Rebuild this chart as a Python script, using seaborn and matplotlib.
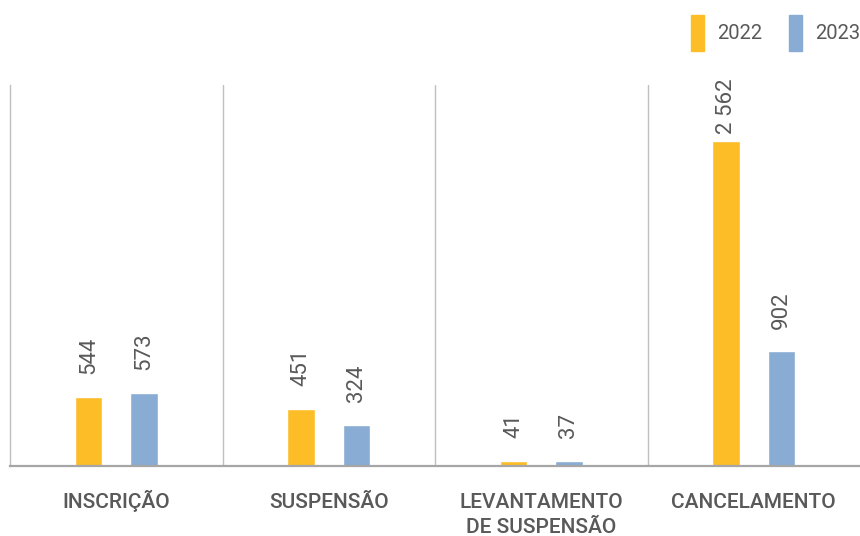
import matplotlib
matplotlib.use("Agg")
import matplotlib.pyplot as plt
import matplotlib.patches as mpatches
import matplotlib.transforms as mtransforms
import seaborn as sns
import pandas as pd

# data
categories = ["INSCRIÇÃO", "SUSPENSÃO", "LEVANTAMENTO\nDE SUSPENSÃO", "CANCELAMENTO"]
years = ["2022", "2023"]
values_2022 = [544, 451, 41, 2562]
values_2023 = [573, 324, 37, 902]

colors = {"2022": "#FDBD26", "2023": "#88ACD3"}
text_color = "#595959"
line_color = "#BFBFBF"

df = pd.DataFrame({
    "categoria": categories * 2,
    "ano": [years[0]] * 4 + [years[1]] * 4,
    "valor": values_2022 + values_2023,
})

sns.set_theme(style="white")
plt.rcParams["font.family"] = ["Roboto", "DejaVu Sans"]

fig = plt.figure(figsize=(8.6, 5.36), dpi=100)
ax = fig.add_axes([10 / 860, 70 / 536, 850 / 860, 381 / 536])

sns.barplot(
    data=df, x="categoria", y="valor", hue="ano", order=categories,
    hue_order=years, palette=colors, width=0.52, gap=0.5,
    saturation=1, legend=False, ax=ax,
)

ax.set_xlim(-0.5, 3.5)
ax.set_ylim(0, 3000)
ax.set_xlabel("")
ax.set_ylabel("")
ax.set_yticks([])

# vertical separators between categories
for x in [0.5, 1.5, 2.5]:
    ax.axvline(x, color=line_color, lw=1, zorder=0)

for side in ["top", "right"]:
    ax.spines[side].set_visible(False)
ax.spines["left"].set_color(line_color)
ax.spines["left"].set_linewidth(1)
ax.spines["bottom"].set_color("#A6A6A6")
ax.spines["bottom"].set_linewidth(1.6)

# category labels: one text per line, each placed on its own baseline
ax.set_xticklabels([])
ax.tick_params(axis="x", length=0)
line_step = 25 * 72 / fig.dpi
first_base = 42 * 72 / fig.dpi
for i, cat in enumerate(categories):
    for j, line in enumerate(cat.split("\n")):
        off = mtransforms.ScaledTranslation(
            0, -(first_base + j * line_step) / 72, fig.dpi_scale_trans)
        ax.text(i, 0, line, transform=ax.get_xaxis_transform() + off,
                ha="center", va="baseline", fontsize=15, fontweight="medium",
                color=text_color, clip_on=False)

# value labels, rotated, space as thousands separator
fig.canvas.draw()
renderer = fig.canvas.get_renderer()
top_px = ax.transData.transform((0, 3000))[1]
for container in ax.containers:
    for bar in container:
        v = bar.get_height()
        cx = bar.get_x() + bar.get_width() / 2
        label = f"{int(v):,}".replace(",", " ")
        t = ax.annotate(
            label, (cx, v), xytext=(0, 16.5), textcoords="offset points",
            rotation=90, ha="center", va="bottom", fontsize=16,
            color=text_color, annotation_clip=False,
        )
        # keep the label inside the plot area, as in the original
        h = t.get_window_extent(renderer).height
        bar_px = ax.transData.transform((0, v))[1]
        room = (top_px - bar_px - h) * 72 / fig.dpi
        t.xyann = (0, max(5, min(16.5, room)))

handles = [mpatches.Patch(color=colors[y], label=y) for y in years]
fig.legend(
    handles=handles, loc="center right", bbox_to_anchor=(1.0, 1 - 33 / 536),
    ncol=2, frameon=False, borderpad=0, borderaxespad=0,
    handlelength=0.62, handleheight=2.3, handletextpad=0.65,
    columnspacing=1.35, fontsize=14.5, labelcolor=text_color,
)

fig.savefig("out.png", dpi=100)
